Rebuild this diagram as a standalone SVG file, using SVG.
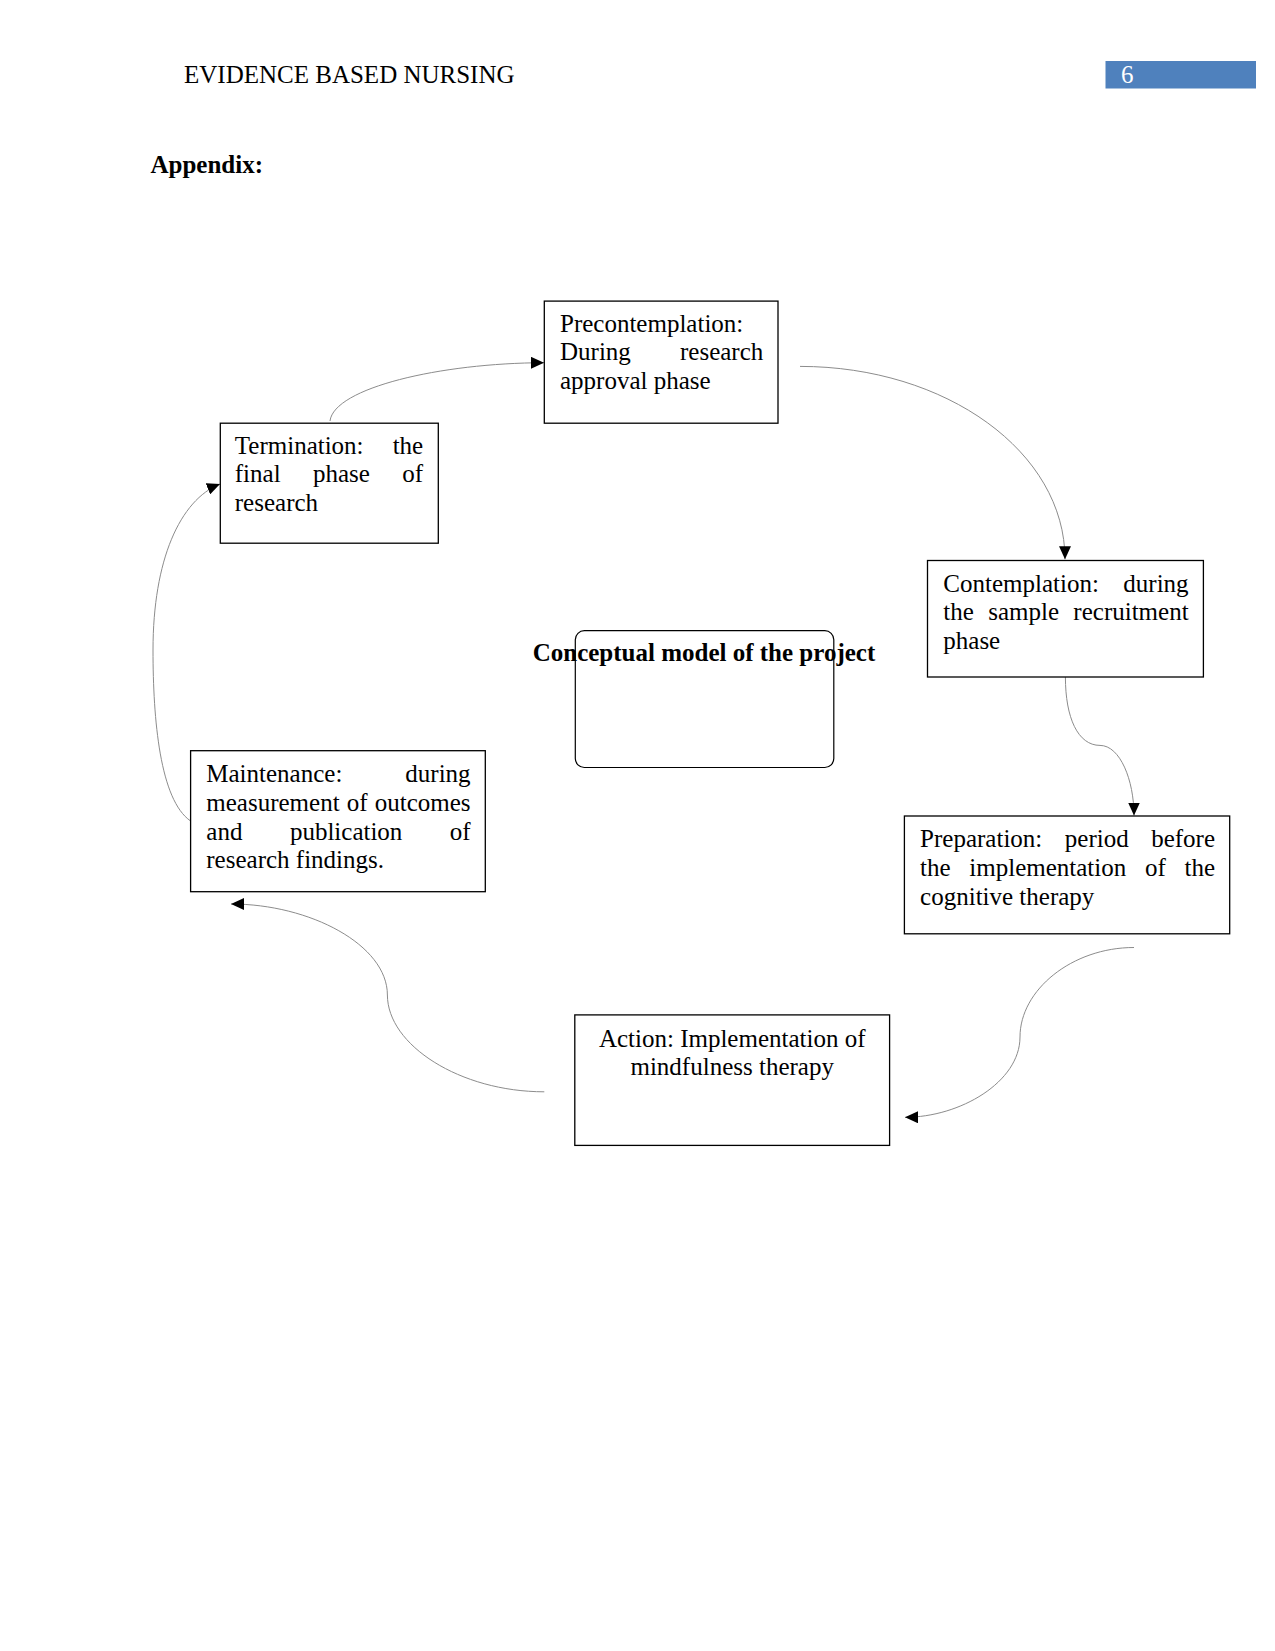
<svg xmlns="http://www.w3.org/2000/svg" width="1275" height="1651" viewBox="0 0 1275 1651">
<style>
text{font-family:"Liberation Serif","Times New Roman",serif;font-size:25px;fill:#000}
.b{font-weight:bold}
.box{fill:#fff;stroke:#000;stroke-width:1.3}
.con{fill:none;stroke:#8c8c8c;stroke-width:1;marker-end:url(#ah)}
.end{text-anchor:end}
.mid{text-anchor:middle}
</style>
<defs>
<marker id="ah" markerUnits="userSpaceOnUse" markerWidth="13" markerHeight="12" refX="12" refY="5.5" orient="auto" viewBox="0 0 12 11">
<path d="M0,0 L12,5.5 L0,11 z" fill="#000"/>
</marker>
</defs>
<rect width="1275" height="1651" fill="#fff"/>
<g id="header">
<text x="184" y="83">EVIDENCE BASED NURSING</text>
<rect x="1105.5" y="61" width="150.5" height="27.5" fill="#4f81bd"/>
<text x="1121" y="83" style="fill:#fff">6</text>
<text class="b" x="150.5" y="172.5">Appendix:</text>
</g>
<g id="connectors">
<path class="con" d="M330,421 C334,388 440,363 544,362.7"/>
<path class="con" d="M800,366.4 C946,366.4 1065,452 1065,559.3"/>
<path class="con" d="M1065.4,677 C1065.4,718 1078,745.4 1100,745.4 C1120,745.4 1134,780 1134,815.5"/>
<path class="con" d="M1134,947.5 C1072,947.5 1020,990 1020,1037 C1020,1082 960,1117.3 905,1117.3"/>
<path class="con" d="M544.3,1091.8 C460,1091.8 387.4,1045 387.4,995 C387.4,945 310,904 231,904"/>
<path class="con" d="M190.6,821 C160,800 153,720 153,650 C153,560 180,500 220,484"/>
</g>
<g id="precontemplation">
<rect class="box" x="544.3" y="301.1" width="233.7" height="122.1"/>
<text x="560" y="331.5">Precontemplation:</text>
<text x="560" y="360.3">During</text><text class="end" x="763.3" y="360.3">research</text>
<text x="560" y="389">approval phase</text>
</g>
<g id="termination">
<rect class="box" x="220.3" y="423.2" width="218" height="120"/>
<text x="234.8" y="453.5">Termination:</text><text class="end" x="423.2" y="453.5">the</text>
<text x="234.8" y="482.3">final</text><text x="313" y="482.3">phase</text><text class="end" x="423.2" y="482.3">of</text>
<text x="234.8" y="511">research</text>
</g>
<g id="contemplation">
<rect class="box" x="927.5" y="560.5" width="275.9" height="116.5"/>
<text x="943.3" y="591.5">Contemplation:</text><text class="end" x="1188.6" y="591.5">during</text>
<text x="943.3" y="620.3">the</text><text x="988.2" y="620.3">sample</text><text class="end" x="1188.6" y="620.3">recruitment</text>
<text x="943.3" y="649">phase</text>
</g>
<g id="conceptual-model">
<rect x="575.3" y="630.7" width="258.5" height="136.8" rx="9" ry="9" fill="none" stroke="#000" stroke-width="1.2"/>
<text class="b mid" x="704" y="661">Conceptual model of the project</text>
</g>
<g id="maintenance">
<rect class="box" x="190.6" y="750.7" width="294.7" height="141"/>
<text x="206.3" y="782">Maintenance:</text><text class="end" x="470.6" y="782">during</text>
<text x="206.3" y="810.8">measurement</text><text x="346.8" y="810.8">of</text><text class="end" x="470.6" y="810.8">outcomes</text>
<text x="206.3" y="839.5">and</text><text x="289.9" y="839.5">publication</text><text class="end" x="470.6" y="839.5">of</text>
<text x="206.3" y="868.3">research findings.</text>
</g>
<g id="preparation">
<rect class="box" x="904.4" y="816" width="325.3" height="117.8"/>
<text x="920.1" y="847.3">Preparation:</text><text x="1064.8" y="847.3">period</text><text class="end" x="1215" y="847.3">before</text>
<text x="920.1" y="876">the</text><text x="969.3" y="876">implementation</text><text x="1144.9" y="876">of</text><text class="end" x="1215" y="876">the</text>
<text x="920.1" y="904.8">cognitive therapy</text>
</g>
<g id="action">
<rect class="box" x="574.8" y="1014.9" width="314.8" height="130.5"/>
<text class="mid" x="732.2" y="1046.5">Action: Implementation of</text>
<text class="mid" x="732.2" y="1075.2">mindfulness therapy</text>
</g>
</svg>
